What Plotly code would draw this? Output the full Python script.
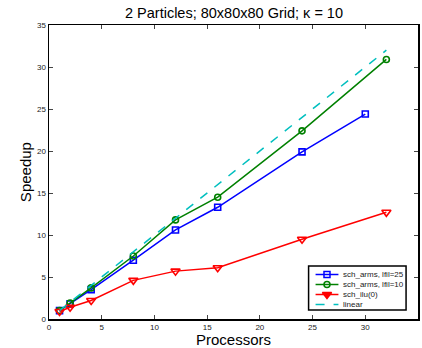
import plotly.graph_objects as go

procs_a = [1, 2, 4, 8, 12, 16, 24, 30]
arms25 = [1.0, 1.8, 3.5, 7.0, 10.6, 13.3, 19.9, 24.4]
procs_b = [1, 2, 4, 8, 12, 16, 24, 32]
arms10 = [1.0, 1.9, 3.7, 7.5, 11.8, 14.5, 22.4, 30.9]
ilu0 = [0.9, 1.4, 2.2, 4.6, 5.7, 6.1, 9.5, 12.7]
lin_x = [1, 32]
lin_y = [1, 32]
xticks = [0, 5, 10, 15, 20, 25, 30, 35]
yticks = [0, 5, 10, 15, 20, 25, 30, 35]
names = ["sch_arms, lfil=25", "sch_arms, lfil=10", "sch_ilu(0)", "linear"]
colors = ["#0000ff", "#008000", "#ff0000", "#00bfbf"]
symbols = ["square-open", "circle-open", "triangle-down", None]
msizes = [6, 6, 8, 0]

FONT = "Liberation Sans, Arial"
W, H = 422, 348
L, R, T, B = 49, 420, 25, 319


def px_x(px):
    return (px - L) / (R - L)


def px_y(py):
    return (B - py) / (B - T)


fig = go.Figure()
series = [(procs_a, arms25), (procs_b, arms10), (procs_b, ilu0)]
for i, (xs, ys) in enumerate(series):
    sym = symbols[i] if i < 2 else "triangle-down-open"
    fig.add_trace(go.Scatter(x=xs, y=ys, mode="lines+markers", name=names[i], showlegend=False,
                             line=dict(color=colors[i], width=1.5),
                             marker=dict(symbol=sym, size=msizes[i], color=colors[i],
                                         line=dict(width=1.6, color=colors[i]))))
fig.add_trace(go.Scatter(x=lin_x, y=lin_y, mode="lines", name=names[3], showlegend=False,
                         line=dict(color=colors[3], width=1.5, dash="dash")))

axis_common = dict(showgrid=False, zeroline=False, showline=True, linecolor="black", linewidth=1.5,
                   mirror="allticks", ticks="inside", ticklen=4, tickcolor="#444", tickwidth=1,
                   tickfont=dict(size=8, color="#222", family=FONT))
fig.update_xaxes(range=[0, 35], tickvals=xticks, **axis_common)
fig.update_yaxes(range=[0, 35], tickvals=yticks, **axis_common)

# legend box drawn in plot-area fractions
bx0, bx1, by0, by1 = 310, 408, 266, 310
fig.add_shape(type="rect", xref="paper", yref="paper", x0=px_x(bx0), x1=px_x(bx1), y0=px_y(by1), y1=px_y(by0),
              line=dict(color="black", width=1.5), fillcolor="white", layer="below")
fig.update_layout(
    xaxis2=dict(overlaying="x", range=[0, 1], visible=False, fixedrange=True),
    yaxis2=dict(overlaying="y", range=[0, 1], visible=False, fixedrange=True),
)
rows = [274.5, 284.5, 294.5, 304.5]
for i in range(4):
    yy = px_y(rows[i])
    fig.add_trace(go.Scatter(x=[px_x(317), px_x(340)], y=[yy, yy], xaxis="x2", yaxis="y2", mode="lines",
                             showlegend=False, hoverinfo="skip",
                             line=dict(color=colors[i], width=1.5, dash="dash" if i == 3 else "solid")))
    if symbols[i]:
        fig.add_trace(go.Scatter(x=[px_x(328.5)], y=[yy], xaxis="x2", yaxis="y2", mode="markers",
                                 showlegend=False, hoverinfo="skip",
                                 marker=dict(symbol=symbols[i], size=msizes[i], color=colors[i],
                                             line=dict(width=1.5, color=colors[i]))))
    fig.add_annotation(x=px_x(343), y=yy, xref="paper", yref="paper", text=names[i], showarrow=False,
                       xanchor="left", yanchor="middle", font=dict(size=8, color="#222", family=FONT))

fig.add_annotation(text="Processors", x=px_x(235), y=px_y(339), xref="paper", yref="paper",
                   showarrow=False, xanchor="center", yanchor="middle", font=dict(size=15, family=FONT, color="black"))
fig.add_annotation(text="Speedup", x=px_x(25), y=px_y(172), xref="paper", yref="paper", textangle=-90,
                   showarrow=False, xanchor="center", yanchor="middle", font=dict(size=15, family=FONT, color="black"))

fig.update_layout(
    width=W, height=H,
    margin=dict(l=L, r=W - R, t=T, b=H - B),
    paper_bgcolor="white", plot_bgcolor="white",
    title=dict(text="2 Particles; 80x80x80 Grid; κ = 10", x=234 / W, xanchor="center",
               y=1 - 13 / H, yanchor="middle", font=dict(size=14.5, family=FONT, color="black")),
    showlegend=False,
)
fig.write_html("out.html", config={"displayModeBar": False, "staticPlot": True},
               post_script="document.body.style.margin='0';document.body.style.overflow='hidden';")
